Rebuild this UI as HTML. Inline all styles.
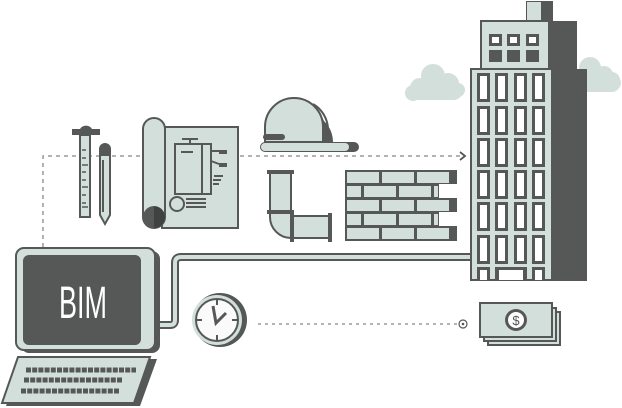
<!DOCTYPE html>
<html><head><style>html,body{margin:0;padding:0;background:#fff}svg{display:block}</style></head><body>
<svg width="622" height="408" viewBox="0 0 622 408" xmlns="http://www.w3.org/2000/svg">
<defs><style>.d{fill:#555856}.l{fill:#d3dfdb;stroke:#555856;stroke-width:2}.s{stroke:#555856;stroke-width:2;fill:none}</style></defs>
<!-- clouds -->
<g fill="#d3dfdb">
<circle cx="433" cy="76" r="12"/><circle cx="420" cy="88" r="10"/><circle cx="448" cy="84" r="11"/><circle cx="458" cy="90" r="7"/><circle cx="413" cy="93" r="8"/><rect x="410" y="82" width="52" height="18" rx="8"/>
<circle cx="590" cy="68" r="11"/><circle cx="604" cy="75" r="9"/><circle cx="614" cy="83" r="7"/><rect x="580" y="72" width="40" height="20" rx="8"/>
</g>
<!-- dashed top -->
<path d="M43 247 V156 H462" stroke="#888" stroke-width="1.3" stroke-dasharray="4 4" fill="none"/>
<path d="M460 152 L465 156 L460 160" stroke="#555856" stroke-width="1.8" fill="none"/>
<!-- ruler -->
<rect x="80" y="135" width="10" height="82" class="l"/>
<path d="M72 135 h28 v-6 h-8 a7 7 0 0 0 -12 0 h-8z" class="d"/>
<g stroke="#555856" stroke-width="1.5"><path d="M82 150h4M82 158h4M82 165h6M82 172h4M82 180h4M82 187h6M82 195h4M82 203h4M82 207h6"/></g>
<!-- pencil -->
<path d="M100 155 h10 v60 l-5 9 l-5 -9z" class="l"/>
<path d="M99 156 v-7 a6 6 0 0 1 12 0 v7z" class="d"/>
<path d="M103 160 v52" class="s" stroke-width="1.2"/>
<!-- blueprint -->
<rect x="162" y="127" width="76" height="101" class="l"/>
<rect x="143" y="118" width="22" height="110" rx="11" class="l"/>
<path d="M154 206 a11 11 0 0 0 0 22z" class="d"/><path d="M154 206 a11 11 0 0 1 0 22z" fill="#3f4240"/>
<g class="s" stroke-width="1.5"><rect x="175" y="144" width="36" height="50"/><path d="M202 144 v50 M182 139 h16 M190 139 v5 M181 152 h12 M211 151 h10 M211 161 l8 3 M214 176 h9 M213 180 h8 M213 184 h6 M186 199 h20 M186 203 h20 M186 207 h20"/><circle cx="177" cy="204" r="7"/></g>
<rect x="219" y="150" width="8" height="4" class="d"/><rect x="219" y="163" width="8" height="4" class="d"/>
<!-- hard hat -->
<path d="M270 142 v-15 a28 28 0 0 1 54 -6 a30 30 0 0 1 9 21z" fill="#555856"/>
<path d="M265 142 v-15 a29 29 0 0 1 58 0 v15z" class="l"/>
<path d="M313 104 a30 30 0 0 1 15 25 v13" class="s"/>
<rect x="263" y="134" width="22" height="6" rx="3" class="d"/>
<rect x="260" y="142" width="99" height="10" rx="5" class="d"/>
<rect x="261" y="143" width="88" height="8" rx="4" fill="#d3dfdb"/>
<!-- pipe -->
<path d="M270 173 h21 v43 h40 v22 h-40 a21 21 0 0 1 -21 -21z" class="l"/>
<rect x="267" y="170" width="27" height="4" class="d"/><rect x="267" y="210" width="27" height="4" class="d"/>
<rect x="290" y="212" width="4" height="30" class="d"/><rect x="328" y="213" width="4" height="29" class="d"/>
<path d="M291 174 v36" class="s" stroke-width="3"/>
<!-- bricks -->
<g>
<rect x="345" y="170" width="112" height="71" fill="#555856"/>
<g fill="#d3dfdb">
<rect x="347" y="172" width="32" height="11"/><rect x="382" y="172" width="32" height="11"/><rect x="417" y="172" width="32" height="11"/>
<rect x="347" y="186" width="14" height="11"/><rect x="364" y="186" width="32" height="11"/><rect x="399" y="186" width="32" height="11"/><rect x="434" y="186" width="4" height="11"/>
<rect x="347" y="200" width="32" height="11"/><rect x="382" y="200" width="32" height="11"/><rect x="417" y="200" width="32" height="11"/>
<rect x="347" y="214" width="14" height="11"/><rect x="364" y="214" width="32" height="11"/><rect x="399" y="214" width="32" height="11"/><rect x="434" y="214" width="4" height="11"/>
<rect x="347" y="228" width="32" height="11"/><rect x="382" y="228" width="32" height="11"/><rect x="417" y="228" width="32" height="11"/>
</g>
<rect x="439" y="184" width="18" height="14" fill="#fff"/><rect x="439" y="212" width="18" height="14" fill="#fff"/>
</g>
<!-- cable -->
<path d="M156 325 H170 Q175 325 175 320 V263 Q175 257 181 257 H472" stroke="#555856" stroke-width="8" fill="none"/>
<path d="M156 325 H170 Q175 325 175 320 V263 Q175 257 181 257 H472" stroke="#d3dfdb" stroke-width="4" fill="none"/>
<!-- building -->
<rect x="526" y="1" width="27" height="22" class="d"/><rect x="527" y="2" width="14" height="20" fill="#d3dfdb"/>
<rect x="548" y="21" width="29" height="50" class="d"/>
<rect x="552" y="69" width="35" height="212" class="d"/>
<rect x="481" y="21" width="68" height="48" class="l"/>
<g class="d"><rect x="489" y="34" width="13" height="12"/><rect x="507" y="34" width="13" height="12"/><rect x="526" y="34" width="13" height="12"/><rect x="489" y="50" width="13" height="12"/><rect x="507" y="50" width="13" height="12"/><rect x="526" y="50" width="13" height="12"/></g>
<g fill="#fff"><rect x="492" y="37" width="7" height="6"/><rect x="510" y="37" width="7" height="6"/><rect x="529" y="37" width="7" height="6"/></g>
<rect x="471" y="69" width="81" height="211" class="l"/>
<g id="row">
<rect x="477" y="73" width="13" height="29" class="d"/><rect x="480" y="76" width="7" height="23" fill="#fff"/>
<rect x="495" y="73" width="13" height="29" class="d"/><rect x="498" y="76" width="7" height="23" fill="#fff"/>
<rect x="514" y="73" width="13" height="29" class="d"/><rect x="517" y="76" width="7" height="23" fill="#fff"/>
<rect x="532" y="73" width="13" height="29" class="d"/><rect x="535" y="76" width="7" height="23" fill="#fff"/>
</g>
<use href="#row" y="33"/><use href="#row" y="65"/><use href="#row" y="97"/><use href="#row" y="129"/><use href="#row" y="162"/>
<rect x="477" y="267" width="13" height="13" class="d"/><rect x="480" y="270" width="7" height="10" fill="#fff"/>
<rect x="495" y="267" width="32" height="13" class="d"/><rect x="499" y="270" width="24" height="10" fill="#fff"/>
<rect x="532" y="267" width="13" height="13" class="d"/><rect x="535" y="270" width="7" height="10" fill="#fff"/>
<!-- monitor -->
<rect x="21" y="251" width="139" height="102" rx="8" class="d"/>
<rect x="16" y="248" width="139" height="102" rx="8" fill="#d3dfdb" stroke="#555856" stroke-width="2"/>
<rect x="23" y="255" width="118" height="90" rx="6" class="d"/>
<text x="83" y="318" text-anchor="middle" font-family="Liberation Sans, sans-serif" font-size="45" fill="#fff" transform="translate(83 0) scale(0.6 1) translate(-83 0)">BIM</text>
<!-- keyboard -->
<path d="M22 359 H157 L140 406 H6 Z" class="d"/>
<path d="M18 357 H150 L134 403 H2 Z" fill="#d3dfdb" stroke="#555856" stroke-width="2"/>
<g stroke="#555856" stroke-width="5" stroke-dasharray="5 1.2"><path d="M26 370 H136"/><path d="M24 380 H123"/><path d="M21 391 H119"/></g>
<!-- clock -->
<circle cx="220" cy="320" r="27" class="d"/>
<circle cx="217" cy="320" r="25" fill="#d3dfdb"/>
<circle cx="217" cy="320" r="21" fill="#fafafa" stroke="#555856" stroke-width="2"/>
<g class="s"><path d="M217 299 v6 M217 335 v6 M196 320 h6 M232 320 h6"/><path d="M213 306 L216 323 L226 313" stroke-width="3"/></g>
<!-- dotted -->
<path d="M258 324 H458" stroke="#888" stroke-width="1.2" stroke-dasharray="3 4"/>
<circle cx="463" cy="324" r="4" fill="#fff" stroke="#555856" stroke-width="1.2"/><circle cx="463" cy="324" r="1.3" fill="#555856"/>
<!-- money -->
<rect x="488" y="312" width="72" height="33" class="l"/>
<rect x="484" y="308" width="72" height="33" class="l"/>
<rect x="480" y="303" width="72" height="34" class="l"/>
<circle cx="516" cy="320" r="11" class="d"/><circle cx="516" cy="320" r="8" fill="#fff"/>
<text x="516" y="325" text-anchor="middle" font-family="Liberation Sans, sans-serif" font-size="13" fill="#555856">$</text>
</svg>
</body></html>
